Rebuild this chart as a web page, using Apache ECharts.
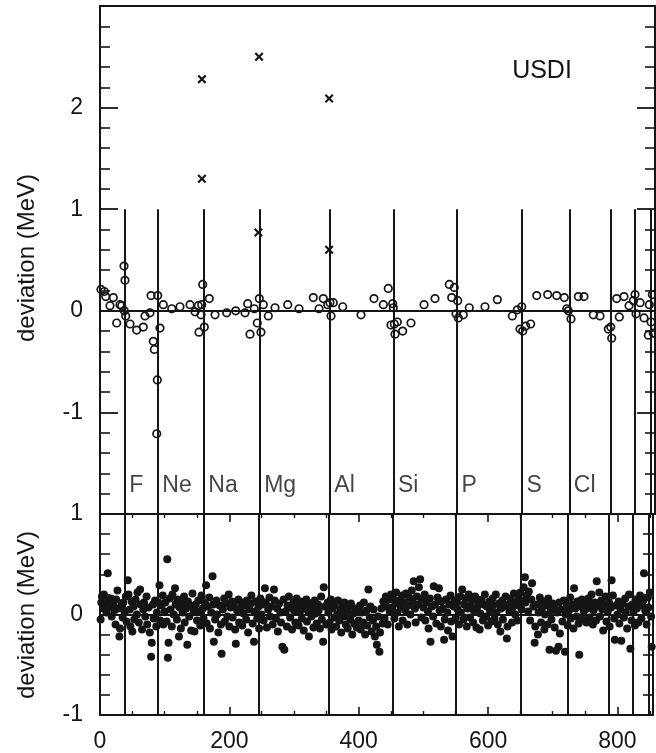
<!DOCTYPE html>
<html>
<head>
<meta charset="utf-8">
<script src="https://cdn.jsdelivr.net/npm/echarts@6/dist/echarts.min.js"></script>
<style>html,body{margin:0;padding:0;background:#fff}#c{width:656px;height:753px}</style>
</head>
<body>
<div id="c"></div>
<script>
// ---- data ----
const xRange = [0, 855];
const xTickValues = [0, 200, 400, 600, 800];
const topYRange = [-2, 3];
const topYLabels = [-1, 0, 1, 2];
const bottomYRange = [-1, 1];
const bottomYLabels = [-1, 0, 1];
const boundaries = [38, 89, 160, 246, 354, 452, 550, 650, 723, 787, 824, 849];
const elementNames = ['F', 'Ne', 'Na', 'Mg', 'Al', 'Si', 'P', 'S', 'Cl'];
const elementLabelY = -1.72;
const panelTitle = 'USDI';
const yName = 'deviation (MeV)';

const topCrosses = [[157,2.28],[157,1.30],[245,2.50],[244,0.77],[353,2.09],[353,0.60]];

const topCircles = [
[1.5,0.21],[6.6,0.19],[8.8,0.14],[20.5,0.13],[15.4,0.05],[30.8,0.06],[33.4,0.05],[25.7,-0.12],
[37,0.44],[38.5,0.30],[37.4,0.0],[39.6,-0.05],[46.2,-0.13],[56.5,-0.19],[66.7,-0.16],[69.3,-0.05],
[77,-0.02],[78.6,0.15],[88.9,0.15],[82.1,-0.30],[83.7,-0.38],[88.3,-0.68],[87.4,-1.21],[92.4,-0.17],
[97.5,0.06],[110.5,0.02],[123.2,0.04],[138.7,0.06],[146.4,-0.01],[151.4,0.05],[156.7,0.06],[158.2,0.26],
[155.6,-0.04],[160.7,-0.16],[152.5,-0.21],[168.4,0.12],[177.2,-0.04],[195.2,-0.02],[209.1,0.0],[223.4,-0.02],
[227.5,0.07],[237.7,0.02],[245.4,0.12],[251.6,0.06],[242.3,-0.12],[231.1,-0.23],[248,-0.21],[259.3,-0.05],
[269.6,0.03],[289.2,0.06],[306.6,0.02],[328.6,0.13],[337.4,0.02],[344,0.12],[350.8,0.06],[354.3,0.08],
[359.4,0.08],[355.9,-0.05],[373.9,0.04],[402.1,-0.04],[422.1,0.12],[436.5,0.06],[444.1,0.22],[450.9,0.07],
[451.9,0.03],[448.3,-0.14],[453.4,-0.13],[458,-0.11],[454.5,-0.23],[466.3,-0.20],[479.1,-0.12],[499.2,0.06],
[516.1,0.12],[538.1,0.26],[545.8,0.23],[541.8,0.13],[551.1,0.10],[548.5,-0.03],[552,-0.07],[559.7,-0.04],
[568.9,0.03],[593.1,0.04],[612.1,0.11],[635.2,-0.05],[642.9,0.01],[649.7,0.04],[647,-0.18],[651.2,-0.20],
[655.8,-0.15],[663.5,-0.13],[672.8,0.15],[689.7,0.16],[703.6,0.15],[715.3,0.13],[719,0.02],[721.5,0.0],
[725.6,-0.08],[736.9,0.14],[745.6,0.14],[760,-0.04],[770.3,-0.05],[783.1,-0.18],[786.8,-0.16],[788.3,-0.27],
[796,0.12],[800,-0.06],[807.3,0.14],[815,0.05],[821.6,0.10],[824.2,0.16],[825.8,-0.03],[832,0.08],
[838.1,-0.07],[846.2,0.06],[850.9,0.16],[848.9,-0.11],[844.7,-0.24],[852.4,-0.22]
];

const bottomPoints = [
[1,-0.05],[2,0.12],[3,0.18],[5,0.06],[6,0.2],[8,0.1],[10,0.02],[12,0.41],[13,0.14],[15,0.08],[17,0.16],[18,-0.02],[20,0.11],[22,0.04],[24,-0.1],[25,0.15],[27,0.24],[28,0.06],[30,-0.22],[31,-0.14],[33,0.09],[35,-0.03],[36,0.12],[38,0.02],[40,0.18],[41,-0.07],[43,0.34],[44,0.2],[46,0.05],[47,-0.12],[49,0.13],[50,-0.17],
[52,0.08],[53,-0.05],[55,0.15],[57,0.0],[58,0.22],[60,-0.08],[62,0.25],[63,0.1],[65,-0.15],[67,0.05],[68,0.12],[70,-0.02],[72,0.18],[73,-0.1],[75,0.07],[77,-0.18],[79,-0.42],[80,-0.28],[82,0.1],[83,-0.04],[85,0.14],[87,-0.12],[88,0.02],[90,0.12],[92,0.29],[93,-0.06],[95,0.09],[97,0.19],[98,-0.1],[100,0.03],
[101,0.12],[103,-0.07],[104,0.55],[105,-0.43],[106,-0.28],[108,0.16],[109,0.05],[111,-0.12],[112,0.2],[114,0.0],[116,0.26],[117,0.1],[119,-0.05],[120,0.15],[122,-0.22],[123,0.07],[125,-0.14],[126,0.11],[128,0.02],[130,0.18],[131,-0.08],[133,0.06],[135,-0.3],[136,0.13],[138,-0.02],[140,0.09],[141,-0.16],[143,0.21],[145,0.04],[146,-0.17],[148,0.1],
[150,-0.06],[152,0.14],[154,0.03],[155,-0.11],[157,0.19],[159,0.06],[160,-0.04],[162,0.12],[164,0.29],[165,-0.09],[167,0.08],[169,0.17],[170,-0.14],[172,0.02],[174,0.38],[175,0.1],[176,-0.27],[178,-0.05],[180,0.14],[181,0.0],[183,-0.18],[185,0.09],[187,-0.1],[188,-0.39],[190,0.05],[192,0.16],[193,-0.07],[195,0.11],[197,-0.02],[199,0.2],
[200,-0.12],[202,0.07],[204,0.13],[205,-0.03],[207,0.1],[209,-0.15],[210,-0.29],[212,0.04],[214,0.15],[215,-0.08],[217,0.06],[219,0.12],[220,-0.11],[222,0.01],[224,0.09],[226,-0.05],[227,0.14],[229,-0.18],[231,0.05],[233,0.11],[234,0.19],[236,-0.09],[238,-0.27],[239,0.03],[241,0.13],[243,-0.04],[245,0.08],[246,-0.14],[248,0.16],[250,0.0],
[251,0.1],[253,-0.06],[255,0.26],[256,0.12],[258,-0.13],[260,0.05],[262,0.17],[263,-0.02],[265,0.08],[267,-0.1],[269,0.25],[270,0.14],[272,-0.04],[274,0.06],[275,-0.17],[277,0.11],[279,0.02],[280,-0.08],[282,-0.32],[284,0.15],[285,-0.35],[287,0.03],[289,-0.12],[290,0.09],[292,0.18],[294,-0.03],[295,0.07],[297,-0.15],[299,0.12],
[300,0.04],[302,-0.08],[304,0.16],[305,0.08],[307,-0.11],[309,0.02],[310,0.13],[312,-0.04],[314,0.09],[315,-0.16],[317,0.06],[319,0.15],[320,-0.07],[322,0.03],[323,-0.22],[325,0.11],[327,-0.02],[328,0.07],[330,-0.13],[332,0.14],[333,0.01],[335,-0.09],[337,0.1],[338,0.04],[340,-0.14],[342,0.18],[343,-0.05],[345,-0.27],[346,0.27],[348,0.08],[350,-0.1],
[352,0.12],[353,0.02],[355,-0.08],[357,0.15],[358,-0.15],[360,0.06],[362,-0.03],[363,0.1],[365,-0.12],[367,0.0],[368,0.14],[370,-0.06],[372,0.05],[373,-0.18],[375,0.09],[377,-0.02],[378,0.12],[380,-0.1],[382,0.03],[383,-0.14],[385,0.08],[387,-0.05],[388,0.11],[390,-0.2],[392,0.01],[393,-0.09],[395,0.06],[397,-0.13],[398,0.04],[400,-0.06],
[402,0.09],[403,-0.15],[405,0.02],[407,-0.08],[408,0.12],[410,-0.2],[412,0.04],[413,-0.11],[415,0.25],[417,-0.03],[418,0.08],[420,-0.17],[422,-0.06],[423,0.05],[425,-0.22],[427,-0.12],[428,-0.3],[430,-0.02],[432,-0.37],[433,-0.18],[435,0.06],[437,-0.09],[438,0.13],[440,-0.04],[442,0.18],[443,0.08],[445,-0.1],[447,0.15],[448,0.03],[450,0.2],
[452,0.07],[453,0.16],[455,-0.04],[457,0.11],[458,0.22],[460,0.02],[462,-0.12],[463,0.14],[465,0.08],[467,0.19],[468,-0.06],[470,0.12],[472,0.04],[473,0.21],[475,-0.1],[477,0.09],[478,0.17],[480,0.0],[482,0.24],[483,0.13],[485,0.33],[487,0.06],[488,-0.08],[490,0.18],[492,0.1],[493,0.27],[495,0.35],[497,-0.03],[498,0.15],[500,0.07],
[502,0.2],[503,-0.06],[505,0.12],[507,0.03],[508,-0.14],[510,0.16],[511,-0.27],[513,0.08],[515,-0.02],[516,0.28],[518,0.1],[520,-0.09],[522,0.17],[524,0.26],[525,0.04],[527,-0.12],[528,0.13],[530,0.06],[532,-0.25],[533,-0.05],[535,0.15],[537,0.02],[538,-0.16],[540,0.1],[542,0.19],[543,-0.07],[545,-0.22],[547,0.08],[548,0.14],[550,-0.03],
[552,0.12],[553,0.05],[555,-0.1],[557,0.18],[558,0.02],[560,0.25],[562,-0.05],[563,0.1],[565,0.16],[567,-0.12],[568,0.06],[570,0.2],[572,-0.03],[573,0.09],[575,0.14],[577,-0.08],[578,0.04],[580,0.18],[582,-0.13],[583,0.07],[585,0.12],[587,-0.15],[588,0.01],[590,0.15],[592,-0.06],[593,0.1],[595,0.2],[597,-0.02],[598,0.08],[600,-0.11],
[602,0.13],[603,0.04],[605,-0.07],[607,0.16],[608,0.09],[610,-0.04],[612,0.2],[613,0.02],[615,-0.1],[617,0.11],[619,-0.17],[620,0.06],[622,0.14],[623,-0.05],[625,0.08],[627,0.18],[629,-0.24],[630,-0.12],[632,0.1],[633,0.03],[635,0.16],[637,-0.08],[638,0.07],[640,0.21],[642,0.0],[643,0.12],[645,-0.06],[647,0.17],[648,0.09],[650,0.22],
[652,0.05],[653,0.14],[655,0.27],[657,0.37],[658,0.12],[660,0.19],[662,0.03],[663,0.23],[665,-0.06],[667,0.15],[668,0.31],[670,0.08],[672,-0.28],[673,-0.12],[675,0.1],[677,-0.2],[678,0.02],[680,0.17],[682,-0.08],[683,0.06],[685,0.13],[687,-0.15],[688,0.0],[690,0.09],[692,-0.1],[693,0.16],[695,-0.35],[697,0.04],[698,-0.05],[700,0.11],
[702,0.07],[703,-0.13],[705,-0.36],[707,0.02],[709,-0.32],[710,0.12],[711,-0.19],[713,0.05],[715,-0.07],[717,0.14],[719,-0.37],[720,0.0],[722,0.09],[723,-0.11],[725,0.04],[727,0.17],[728,-0.04],[730,0.1],[732,-0.14],[733,0.26],[735,0.06],[737,-0.02],[738,0.13],[740,-0.09],[741,-0.4],[743,0.08],[745,0.15],[747,-0.05],[748,0.03],[750,0.11],
[752,-0.08],[753,0.06],[755,0.16],[757,-0.03],[758,0.1],[760,0.2],[762,-0.1],[763,0.04],[765,0.12],[767,-0.06],[768,0.33],[770,0.08],[772,0.22],[773,-0.02],[775,0.14],[777,0.05],[778,-0.16],[780,0.1],[782,0.18],[783,-0.07],[785,0.03],[787,0.12],[788,-0.12],[790,0.07],[791,0.34],[793,0.19],[795,-0.04],[796,-0.25],[798,0.09],[800,0.0],
[802,0.13],[803,-0.09],[805,0.05],[806,-0.26],[808,0.11],[810,-0.03],[812,0.16],[813,0.02],[815,-0.14],[817,0.08],[818,0.2],[820,-0.34],[822,-0.06],[823,0.1],[825,0.03],[827,-0.11],[828,0.15],[830,0.06],[832,-0.08],[833,0.12],[835,0.19],[837,-0.04],[838,0.09],[840,0.14],[841,0.41],[843,0.04],[845,-0.1],[847,0.17],[848,0.07],[850,0.22],[852,-0.02],[853,-0.32]
];

// ---- chart ----
const INK = '#151515';
const FONT = '"Liberation Sans", Arial, Helvetica, sans-serif';
const chart = echarts.init(document.getElementById('c'), null, {renderer: 'canvas'});

const axisLine = {show: true, onZero: false, lineStyle: {color: INK, width: 2}};
function xAx(gridIndex, position, withTicks, withLabels) {
  return {
    type: 'value', gridIndex, position, min: xRange[0], max: xRange[1], interval: 200,
    axisLine,
    axisTick: {show: withTicks, inside: true, length: 8, lineStyle: {color: INK, width: 1.6}},
    minorTick: {show: withTicks, splitNumber: 4, length: 4, lineStyle: {color: INK, width: 1.4}},
    axisLabel: {show: withLabels, fontSize: 23, fontFamily: FONT, color: INK, margin: 15,
      formatter: v => xTickValues.includes(v) ? String(v) : ''},
    splitLine: {show: false}, minorSplitLine: {show: false}
  };
}
function yAx(gridIndex, position, range, labels, withLabels) {
  return {
    type: 'value', gridIndex, position, min: range[0], max: range[1], interval: 1,
    axisLine,
    axisTick: {show: true, inside: true, length: 18, lineStyle: {color: INK, width: 1.8}},
    minorTick: {show: true, splitNumber: 5, length: 10, lineStyle: {color: INK, width: 1.6}},
    axisLabel: {show: withLabels, fontSize: 23, fontFamily: FONT, color: INK, margin: 17,
      formatter: v => labels.includes(Math.round(v)) && Math.abs(v - Math.round(v)) < 1e-6 ? String(Math.round(v)) : ''},
    splitLine: {show: false}, minorSplitLine: {show: false}
  };
}

const lineStyle = {color: INK, width: 2, type: 'solid', opacity: 1};
const topMark = [{yAxis: 0}].concat(boundaries.map(b => [{coord: [b, topYRange[0]]}, {coord: [b, 1]}]));
const botMark = [{yAxis: 0}].concat(boundaries.map(b => [{coord: [b, bottomYRange[0]]}, {coord: [b, bottomYRange[1]]}]));

const crossPath = 'path://M0,1.7L1.7,0L5,3.3L8.3,0L10,1.7L6.7,5L10,8.3L8.3,10L5,6.7L1.7,10L0,8.3L3.3,5Z';

const option = {
  animation: false,
  backgroundColor: '#fff',
  grid: [
    {left: 100, top: 6, width: 555, height: 508},
    {left: 100, top: 514, width: 555, height: 202}
  ],
  xAxis: [
    xAx(0, 'bottom', false, false),
    xAx(0, 'top', false, false),
    xAx(1, 'bottom', true, true),
    xAx(1, 'top', true, false)
  ],
  yAxis: [
    yAx(0, 'left', topYRange, topYLabels, true),
    yAx(0, 'right', topYRange, topYLabels, false),
    yAx(1, 'left', bottomYRange, bottomYLabels, true),
    yAx(1, 'right', bottomYRange, bottomYLabels, false)
  ],
  graphic: [
    {type: 'text', x: 27, y: 258, rotation: Math.PI / 2,
     style: {text: yName, fontSize: 24, fontFamily: FONT, fill: INK, textAlign: 'center', textVerticalAlign: 'middle'}},
    {type: 'text', x: 27, y: 615, rotation: Math.PI / 2,
     style: {text: yName, fontSize: 24, fontFamily: FONT, fill: INK, textAlign: 'center', textVerticalAlign: 'middle'}},
    {type: 'text', x: 542, y: 71,
     style: {text: panelTitle, fontSize: 25, fontFamily: FONT, fill: INK, textAlign: 'center', textVerticalAlign: 'middle'}}
  ],
  series: [
    {
      type: 'scatter', xAxisIndex: 0, yAxisIndex: 0, data: topCircles,
      symbol: 'circle', symbolSize: 7.5,
      itemStyle: {color: 'rgba(255,255,255,0)', borderColor: INK, borderWidth: 1.7, opacity: 1},
      markLine: {silent: true, symbol: 'none', animation: false, label: {show: false}, lineStyle, data: topMark},
      z: 3
    },
    {
      type: 'scatter', xAxisIndex: 0, yAxisIndex: 0, data: topCrosses,
      symbol: crossPath, symbolSize: 9,
      itemStyle: {color: INK, opacity: 1}, z: 3
    },
    {
      type: 'scatter', xAxisIndex: 0, yAxisIndex: 0,
      data: elementNames.map((n, i) => ({value: [boundaries[i], elementLabelY], name: n})),
      symbol: 'circle', symbolSize: 1, itemStyle: {color: 'rgba(0,0,0,0)'},
      label: {show: true, position: 'right', distance: 4, formatter: p => p.name,
        fontSize: 23, fontFamily: FONT, color: INK},
      z: 4
    },
    {
      type: 'scatter', xAxisIndex: 2, yAxisIndex: 2, data: bottomPoints,
      symbol: 'circle', symbolSize: 8,
      itemStyle: {color: INK, opacity: 1},
      markLine: {silent: true, symbol: 'none', animation: false, label: {show: false}, lineStyle, data: botMark},
      z: 3
    }
  ]
};
chart.setOption(option);
</script>
</body>
</html>
